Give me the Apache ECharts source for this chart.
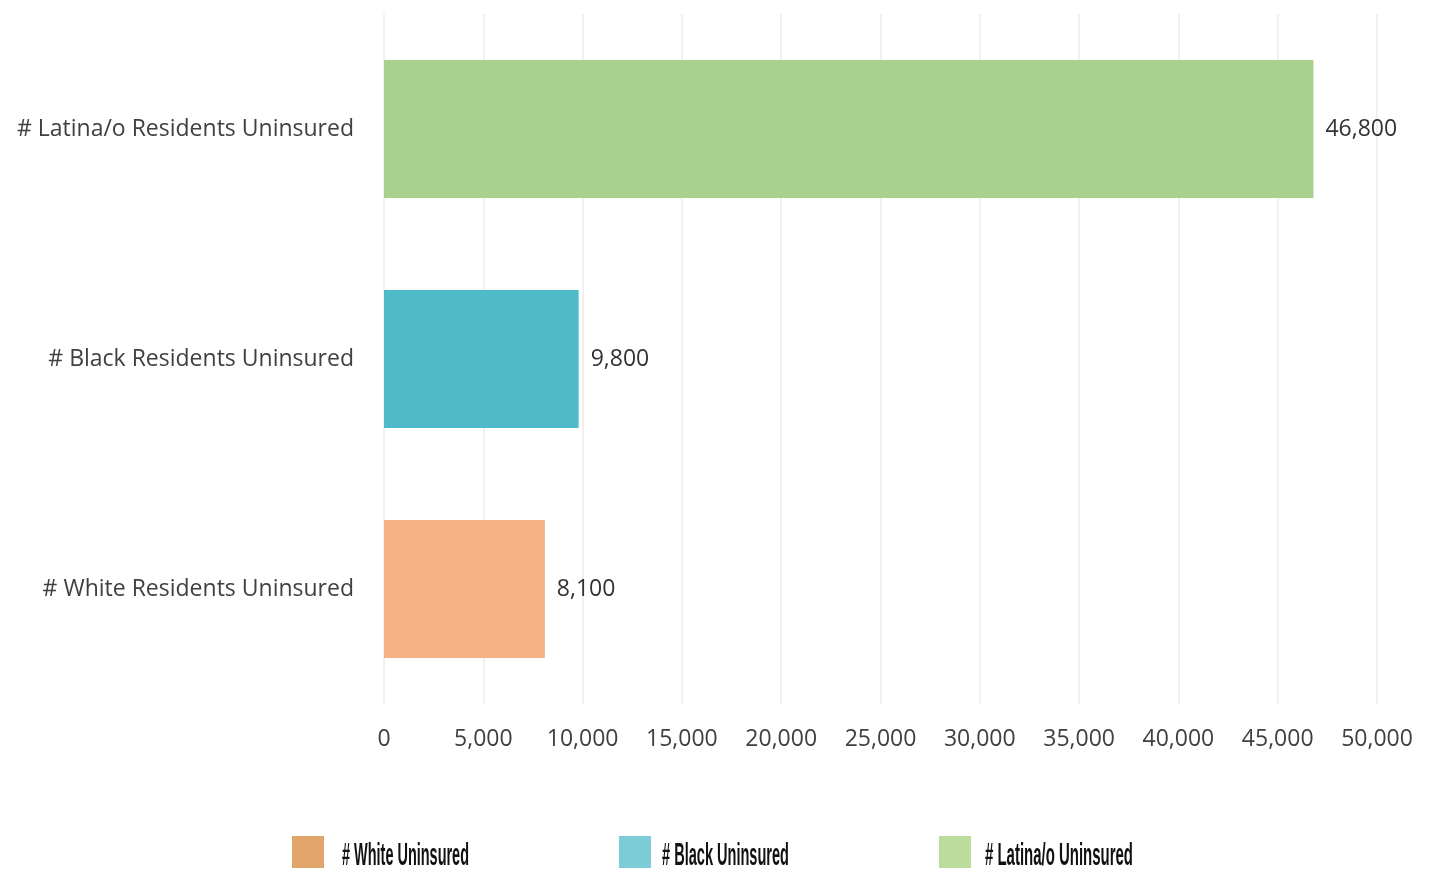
<!DOCTYPE html>
<html><head><meta charset="utf-8">
<script src="https://cdn.jsdelivr.net/npm/echarts@6/dist/echarts.min.js"></script>
<style>html,body{margin:0;padding:0;background:#fff}#c{width:1433px;height:869px}</style>
</head><body><div id="c"></div>
<script>
const categories = ['# White Residents Uninsured', '# Black Residents Uninsured', '# Latina/o Residents Uninsured'];
const seriesNames = ['# White Uninsured', '# Black Uninsured', '# Latina/o Uninsured'];
const values = [8100, 9800, 46800];
const barColors = ['#F4B183', '#4FBBC9', '#A9D18E'];
const legendColors = ['#E2A66A', '#7BCCD6', '#BADC9C'];
const xTicks = { min: 0, max: 50000, interval: 5000 };

const FONT = '"Open Sans", Lato, sans-serif';
const fmt = v => v.toLocaleString('en-US');
const chart = echarts.init(document.getElementById('c'));
const series = seriesNames.map((name, i) => ({
  name, type: 'bar', stack: 'all', barWidth: '60%',
  data: values.map((v, j) => j === i ? v : '-'),
  itemStyle: { color: barColors[i] },
  label: { show: true, position: 'right', distance: 12, formatter: p => fmt(p.value),
    color: '#333', fontSize: 23, fontFamily: FONT }
}));
// legend layout (icons + condensed text widths)
const legendLefts = [292, 619, 939];
const legendTextX = [342, 662, 985];
const legendTextW = [127, 127, 148];
const legendFont = 'bold 32px "Liberation Sans", Arial, sans-serif';
const mctx = document.createElement('canvas').getContext('2d');
mctx.font = legendFont;
const graphics = seriesNames.map((n, i) => {
  const w = mctx.measureText(n).width;
  return { type: 'text', x: legendTextX[i], y: 856, scaleX: legendTextW[i] / w,
    style: { text: n, font: legendFont, fill: '#111', verticalAlign: 'middle' } };
});
chart.setOption({
  animation: false,
  grid: { left: 384, right: 56, top: 14, bottom: 165 },
  xAxis: { type: 'value', min: xTicks.min, max: xTicks.max, interval: xTicks.interval,
    axisLine: { show: false }, axisTick: { show: false },
    splitLine: { show: true, lineStyle: { color: '#EBEBEB', width: 1.5 } },
    axisLabel: { formatter: v => fmt(v), color: '#404040', fontSize: 23, margin: 24, fontFamily: FONT } },
  yAxis: { type: 'category', data: categories, axisLine: { show: false }, axisTick: { show: false },
    axisLabel: { color: '#404040', fontSize: 23, margin: 30, fontFamily: FONT } },
  legend: seriesNames.map((n, i) => ({
    left: legendLefts[i], top: 836, padding: 0, itemWidth: 32, itemHeight: 32, itemGap: 0,
    data: [{ name: n, icon: 'rect', itemStyle: { color: legendColors[i] } }],
    formatter: () => '',
    textStyle: { fontSize: 1 }
  })),
  graphic: graphics,
  series
});
</script></body></html>
